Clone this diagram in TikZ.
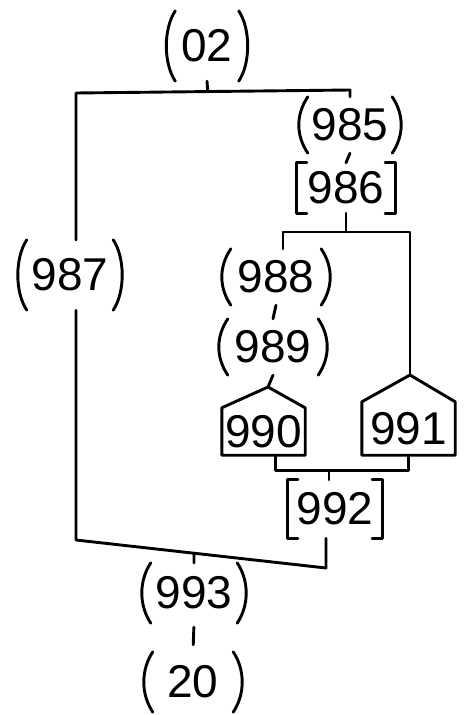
\documentclass[tikz,border=0pt]{standalone}
\usepackage{fontspec}
\setmainfont{Liberation Sans}
\usetikzlibrary{calc}
\tikzset{
  lbl/.style={font=\fontsize{46}{48}\selectfont, inner sep=2pt, anchor=center},
  paren/.style={lbl},
  brk/.style={lbl},
  housebox/.style={lbl},
  conn/.style={line width=2.9pt, line cap=round, line join=round},
}
\newcommand\drawparens[1]{%
  \draw[conn] (#1.north west) .. controls +(-12,18) and +(-12,-18) .. (#1.south west);
  \draw[conn] (#1.north east) .. controls +(12,18) and +(12,-18) .. (#1.south east);}
\newcommand\drawbrackets[1]{%
  \draw[conn] ([xshift=10pt]#1.north west) -- (#1.north west) -- (#1.south west) -- ++(10,0);
  \draw[conn] ([xshift=-10pt]#1.north east) -- (#1.north east) -- (#1.south east) -- ++(-10,0);}
\begin{document}
\begin{tikzpicture}[x=1pt,y=-1pt]
\useasboundingbox (0,0) rectangle (472,715);
% nodes
\node[paren, minimum width=63pt, minimum height=70pt] (n02) at (207,46) {02};
\node[paren, minimum width=84pt, minimum height=56pt] (n985) at (350,125) {985};
\node[brk, minimum width=98pt, minimum height=50pt] (n986) at (346,188) {986};
\node[paren, minimum width=86pt, minimum height=70pt] (n987) at (70,275) {987};
\node[paren, minimum width=90pt, minimum height=56pt] (n988) at (276,277) {988};
\node[paren, minimum width=90pt, minimum height=56pt] (n989) at (273,347) {989};
\node[housebox, minimum width=83pt, minimum height=47pt] (n990) at (263.5,431.5) {990};
\node[housebox, minimum width=93pt, minimum height=53pt] (n991) at (408.5,428.5) {991};
\node[brk, minimum width=94pt, minimum height=58pt] (n992) at (335,509) {992};
\node[paren, minimum width=86pt, minimum height=60pt] (n993) at (194,593) {993};
\node[paren, minimum width=80pt, minimum height=60pt] (n20) at (193,682) {20};
% node outlines
\foreach \n in {n02,n985,n987,n988,n989,n993,n20} {\drawparens{\n}}
\drawbrackets{n986}
\drawbrackets{n992}
\coordinate (a990) at (268,387);
\coordinate (a991) at (410,375);
\draw[conn] (n990.south west) -- (n990.north west) -- (a990) -- (n990.north east) -- (n990.south east) -- cycle;
\draw[conn] (n991.south west) -- (n991.north west) -- (a991) -- (n991.north east) -- (n991.south east) -- cycle;
% connectors
\coordinate (tl) at (76,93);
\coordinate (tr) at (350,90);
\coordinate (bl) at (76,540);
\coordinate (br) at (326,568);
\coordinate (ml) at (283,232);
\coordinate (mr) at (410,232);
\draw[conn] (n02.south) -- ($(tl)!0.481!(tr)$);
\draw[conn] (n987.north -| tl) -- (tl) -- (tr) -- (n985.north);
\draw[conn] (n987.south -| tl) -- (bl) -- (br) -- (n992.south -| br);
\draw[conn] ($(bl)!0.472!(br)$) -- (n993.north);
\draw[conn] (n985.south) -- (n986.north);
\draw[conn] (n986.south) -- (n986.south |- ml);
\draw[conn] (n988.north -| ml) -- (ml) -- (mr) -- (a991);
\draw[conn] (n988.south) -- (n989.north);
\draw[conn] (n989.south) -- (a990);
\draw[conn] ([xshift=12pt]n990.south) -- ++(0,15) coordinate (jl) -| (n991.south);
\draw[conn] ([xshift=-6pt]n992.north) -- ([xshift=-6pt]n992.north |- jl);
\draw[conn, shorten <=4pt, shorten >=7pt] (n993.south) -- (n20.north);
\end{tikzpicture}
\end{document}
